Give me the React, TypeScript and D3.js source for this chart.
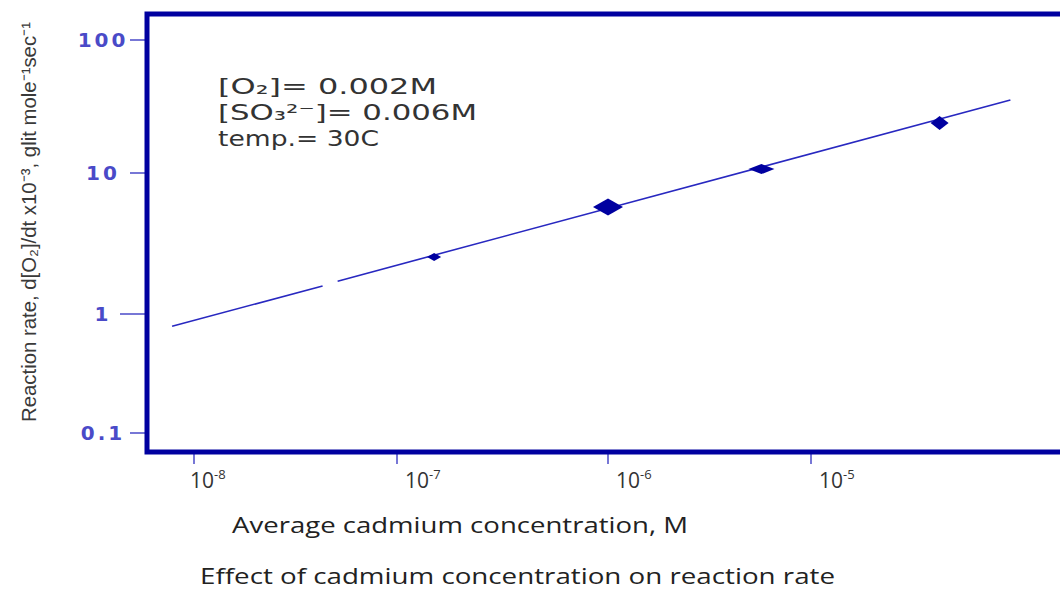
import React from "react"
import * as d3 from "d3"

// tick values
const xTicks = [1e-8, 1e-7, 1e-6, 1e-5]
const xTickExp = ["-8", "-7", "-6", "-5"]
const yTicks = [0.1, 1, 10, 100]
const yTickLabels = ["0.1", "1", "10", "100"]

// measured points: cadmium concentration (M) vs reaction rate
const cadmium = [1.5e-7, 1.0e-6, 5.7e-6, 4.3e-5]
const rate = [2.54, 5.74, 10.7, 23.8]

// fitted line, drawn in two pieces (there is a small break in it)
const fitPieces = [
  [
    [7.8e-9, 0.79],
    [4.3e-8, 1.58],
  ],
  [
    [5.1e-8, 1.71],
    [9.6e-5, 35.4],
  ],
]

const conditions = ["[O₂]= 0.002M", "[SO₃²⁻]= 0.006M", "temp.= 30C"]

const W = 1060
const H = 591

const App = () => {
  // the original axes are hand placed, so the decades are not quite even
  const x = d3.scaleLog().domain(xTicks).range([194, 397, 608, 811])
  const y = d3.scaleLog().domain(yTicks).range([433, 314, 173, 40])

  const line = d3
    .line<number[]>()
    .x(d => x(d[0]))
    .y(d => y(d[1]))

  const navy = "#0000a0"
  const tickBlue = "#4a4ac8"
  const markW = [14, 30, 26, 18]
  const markH = [8, 17, 10, 14]
  const condWidth = [219, 259, 161]

  return (
    <svg
      width={W}
      height={H}
      style={{ position: "absolute", left: 0, top: 0, background: "#fff" }}
    >
      {/* y title */}
      <text
        transform="translate(36,222) rotate(-90)"
        textAnchor="middle"
        fontFamily="'Liberation Sans Narrow', 'Liberation Sans', sans-serif"
        fontSize={20}
        fill="#3a3a3a"
        textLength={400}
        lengthAdjust="spacingAndGlyphs"
      >
        Reaction rate, d[O₂]/dt x10⁻³, glit mole⁻¹sec⁻¹
      </text>

      {/* y ticks */}
      {yTicks.map((t, i) => (
        <g key={t}>
          <line
            x1={t === 1 ? 120 : 130}
            x2={147}
            y1={y(t)}
            y2={y(t)}
            stroke={tickBlue}
            strokeWidth={1.5}
          />
          <text
            x={103}
            y={y(t)}
            dy="0.36em"
            textAnchor="middle"
            fontFamily="'DejaVu Sans', sans-serif"
            fontWeight="bold"
            fontSize={20}
            letterSpacing={3}
            fill={tickBlue}
          >
            {yTickLabels[i]}
          </text>
        </g>
      ))}

      {/* x ticks */}
      {xTicks.map((t, i) => (
        <g key={t}>
          <line
            x1={x(t)}
            x2={x(t)}
            y1={452}
            y2={464}
            stroke={tickBlue}
            strokeWidth={1.5}
          />
          <text
            x={x(t) + (i === 0 ? -4 : 8)}
            y={488}
            fontFamily="'Open Sans', sans-serif"
            fontSize={21}
            fill="#333"
          >
            10
            <tspan fontSize={13} dy={-9}>
              {xTickExp[i]}
            </tspan>
          </text>
        </g>
      ))}

      {/* frame */}
      <rect
        x={147}
        y={14}
        width={1000}
        height={438}
        fill="none"
        stroke={navy}
        strokeWidth={5}
      />

      {/* fitted line */}
      {fitPieces.map((p, i) => (
        <path
          key={i}
          d={line(p) || ""}
          fill="none"
          stroke="#2828c0"
          strokeWidth={1.6}
        />
      ))}

      {/* points */}
      {cadmium.map((c, i) => {
        const cx = x(c)
        const cy = y(rate[i])
        const w = markW[i] / 2
        const h = markH[i] / 2
        return (
          <path
            key={i}
            d={`M${cx - w},${cy} L${cx},${cy - h} L${cx + w},${cy} L${cx},${cy + h} Z`}
            fill={navy}
          />
        )
      })}

      {/* conditions */}
      {conditions.map((c, i) => (
        <text
          key={c}
          x={218}
          y={94 + i * 26}
          fontFamily="'DejaVu Sans', sans-serif"
          fontSize={22}
          fill="#333"
          textLength={condWidth[i]}
          lengthAdjust="spacingAndGlyphs"
        >
          {c}
        </text>
      ))}

      {/* x title and caption */}
      <text
        x={232}
        y={533}
        fontFamily="'Open Sans', sans-serif"
        fontSize={22}
        fill="#222"
        textLength={456}
        lengthAdjust="spacingAndGlyphs"
      >
        Average cadmium concentration, M
      </text>
      <text
        x={200}
        y={584}
        fontFamily="'Open Sans', sans-serif"
        fontSize={21}
        fill="#222"
        textLength={635}
        lengthAdjust="spacingAndGlyphs"
      >
        Effect of cadmium concentration on reaction rate
      </text>
    </svg>
  )
}

export default App
